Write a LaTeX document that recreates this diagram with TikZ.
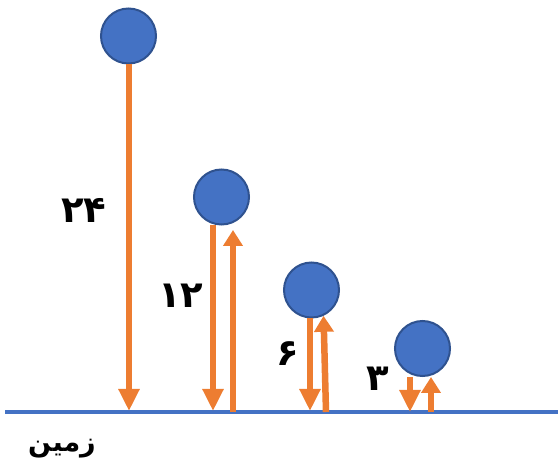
\documentclass[tikz,border=0pt]{standalone}
\usepackage{fontspec}
\newfontfamily\farsi[Script=Arabic]{DejaVu Sans}
\TeXXeTstate=1
\usetikzlibrary{arrows.meta}
\definecolor{ballblue}{HTML}{4472C4}
\definecolor{ballrim}{HTML}{2F528F}
\definecolor{bounce}{HTML}{ED7D31}
\tikzset{every picture/.style={line width=0.75pt}}

\begin{document}
\begin{tikzpicture}[x=1pt, y=-1pt,
    ball/.style={circle, fill=ballblue, draw=ballrim, line width=2pt, minimum size=55pt, inner sep=0pt},
    fall/.style={draw=bounce, line width=6.5pt, -{Triangle[length=22pt,width=20pt]}},
    rise/.style={draw=bounce, line width=6.5pt, -{Triangle[length=16pt,width=19pt]}},
    height/.style={font=\farsi\bfseries\fontsize{37}{37}\selectfont, inner sep=0pt}]
        \useasboundingbox (0,0) rectangle (558,468);
        % ground
        \coordinate (gl) at (5,412);
        \coordinate (gr) at (558,412);
        \draw[ballblue, line width=4pt] (gl) -- (gr);
        \node[font=\farsi\bfseries\fontsize{27}{27}\selectfont, inner sep=0pt] (groundlabel) at (62,449) {\beginR زمین\endR};
        % balls, each one bouncing back to half its height
        \node[ball] (ball1) at (128.5,36) {};
        \node[ball] (ball2) at (221.5,197) {};
        \node[ball] (ball3) at (311.5,290) {};
        \node[ball] (ball4) at (422.5,348.5) {};
        \coordinate (d1) at (129,411);
        \coordinate (d2) at (213,411);
        \coordinate (u2) at (233,412);
        \coordinate (d3) at (310,411);
        \coordinate (u3) at (326,412);
        \coordinate (d4) at (410,412);
        \coordinate (u4) at (431,412);
        % down and up again
        \draw[fall] (ball1.south -| d1) -- (d1);
        \draw[fall] (ball2.south -| d2) -- (d2);
        \draw[rise, shorten >=4.5pt] (u2) -- (u2 |- ball2.south);
        \draw[fall] (ball3.south -| d3) -- (d3);
        \draw[rise] (u3) -- (ball3.-65);
        \draw[fall] (ball4.south -| d4) -- (d4);
        \draw[rise] (u4) -- (u4 |- ball4.south);
        % heights
        \node[height] (h1) at (84,210) {۲۴};
        \node[height] (h2) at (181,296) {۱۲};
        \node[height] (h3) at (288,354) {۶};
        \node[height] (h4) at (378,379) {۳};
    \end{tikzpicture}
\end{document}
